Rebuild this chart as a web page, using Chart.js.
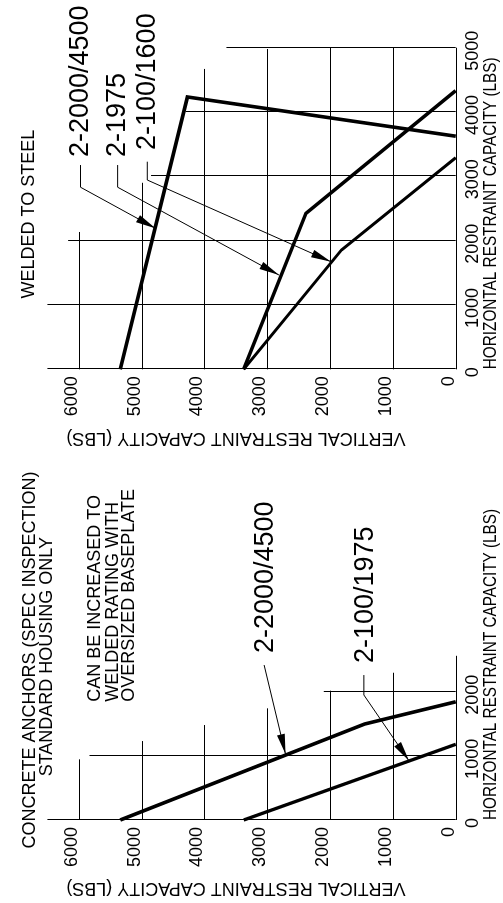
<!DOCTYPE html>
<html>
<head>
<meta charset="utf-8">
<script src="https://cdn.jsdelivr.net/npm/chart.js@4.4.1/dist/chart.umd.min.js"></script>
<style>
  html, body { margin: 0; padding: 0; background: #fff; }
  body { width: 503px; height: 903px; overflow: hidden; position: relative; }
  /* the sheet is drawn upright and then turned a quarter left, like the original drawing */
  #sheet { position: absolute; left: 0; top: 0; width: 903px; height: 503px;
           transform-origin: 0 0; transform: translate(0, 903px) rotate(-90deg); }
  #sheet canvas { position: absolute; top: 0; }
  #concrete { left: 0; }
  #welded { left: 453px; }
</style>
</head>
<body>
<div id="sheet">
  <canvas id="concrete" width="453" height="503"></canvas>
  <canvas id="welded" width="450" height="503"></canvas>
</div>
<script>
// capacities in lbs: x = horizontal restraint, y = vertical restraint
const vTicks = [0, 1000, 2000, 3000, 4000, 5000, 6000];
const concTicksH = [0, 1000, 2000];
const weldTicksH = [0, 1000, 2000, 3000, 4000, 5000];

// concrete anchors (spec inspection)
const concH_2000_4500 = [0, 1496, 1843];
const concV_2000_4500 = [5340, 1452, 0];
const concH_100_1975 = [0, 1180];
const concV_100_1975 = [3375, 0];

// welded to steel
const weldH_2000_4500 = [0, 4234, 3624];
const weldV_2000_4500 = [5340, 4271, 0];
const weldH_1975 = [0, 2424, 4332];
const weldV_1975 = [3375, 2384, 0];
const weldH_100_1600 = [0, 1855, 3290];
const weldV_100_1600 = [3375, 1819, 0];

// grid lines on the drawing stop short, these are their reaches
const concGridH = [0, 1000, 2000];
const concGridHReach = [6500, 5830, 2100];
const concGridVReach = [2560, 2296, 2016, 1741, 1481, 1231, 946];
const weldGridH = [0, 1000, 2000, 3000, 4000, 5000];
const weldGridHReach = [6500, 6500, 6170, 4850, 4300, 3650];
const weldGridVReach = [5000, 5000, 5000, 4980, 4670, 2900, 2135];

Chart.defaults.font.family = '"Liberation Sans", Arial, sans-serif';
Chart.defaults.font.size = 18;
Chart.defaults.color = '#000';

const crisp = p => Math.round(p) + 0.5;

const drawing = {
  id: 'drawing',
  beforeDatasetsDraw(chart, args, opts) {
    const {ctx, scales: {x, y}} = chart;
    ctx.save();
    ctx.strokeStyle = '#000';
    ctx.lineWidth = 1;
    ctx.beginPath();
    opts.gridH.forEach((h, i) => {
      const gx = crisp(x.getPixelForValue(h));
      ctx.moveTo(gx, y.getPixelForValue(0));
      ctx.lineTo(gx, y.getPixelForValue(opts.gridHReach[i]));
    });
    vTicks.forEach((v, i) => {
      const gy = crisp(y.getPixelForValue(v));
      ctx.moveTo(x.getPixelForValue(0), gy);
      ctx.lineTo(x.getPixelForValue(opts.gridVReach[i]), gy);
    });
    ctx.stroke();
    ctx.restore();
  },
  afterDatasetsDraw(chart, args, opts) {
    const {ctx, scales: {x, y}} = chart;
    const P = q => [x.getPixelForValue(q[0]), y.getPixelForValue(q[1])];
    ctx.save();
    ctx.fillStyle = '#000';
    ctx.strokeStyle = '#000';
    opts.leaders.forEach(leader => {
      const p = leader.map(P);
      ctx.lineWidth = 1;
      ctx.beginPath();
      p.forEach((q, i) => i ? ctx.lineTo(q[0], q[1]) : ctx.moveTo(q[0], q[1]));
      ctx.stroke();
      const a = p[p.length - 2], b = p[p.length - 1];
      ctx.save();
      ctx.translate(b[0], b[1]);
      ctx.rotate(Math.atan2(b[1] - a[1], b[0] - a[0]));
      ctx.beginPath();
      ctx.moveTo(0, 0);
      ctx.lineTo(-20, -4);
      ctx.lineTo(-20, 4);
      ctx.closePath();
      ctx.fill();
      ctx.restore();
    });
    opts.notes.forEach(n => {
      const [tx, ty] = P([n.h, n.v]);
      ctx.font = n.size + 'px "Liberation Sans", Arial, sans-serif';
      ctx.textAlign = n.align || 'left';
      ctx.textBaseline = 'middle';
      ctx.fillText(n.text, tx, ty);
    });
    ctx.restore();
  }
};

const line = (label, hs, vs, w) => ({
  label,
  data: hs.map((h, i) => ({x: h, y: vs[i]})),
  showLine: true,
  borderColor: '#000',
  borderWidth: w,
  pointRadius: 0,
  tension: 0,
  clip: false
});

function sketch(id, datasets, hTicks, o) {
  return new Chart(document.getElementById(id), {
    type: 'scatter',
    data: {datasets},
    options: {
      responsive: false,
      animation: false,
      layout: {padding: {left: 0, right: o.right, top: 10.4, bottom: 0}},
      plugins: {
        legend: {display: false},
        tooltip: {enabled: false},
        drawing: o.drawing
      },
      scales: {
        x: {
          type: 'linear', min: 0, max: 4850,
          border: {display: false},
          grid: {display: false, drawTicks: false},
          afterBuildTicks: s => { s.ticks = hTicks.map(value => ({value})); },
          afterFit: s => { s.height = 47.3; },
          ticks: {autoSkip: false, maxRotation: 0, padding: 7, labelOffset: -3, callback: v => String(v)},
          title: {display: true, text: 'HORIZONTAL RESTRAINT CAPACITY (LBS)', font: {size: 18}, padding: {top: 0, bottom: 1}}
        },
        y: {
          type: 'linear', min: 0, max: 7000,
          border: {display: false},
          grid: {display: false, drawTicks: false},
          afterBuildTicks: s => { s.ticks = vTicks.map(value => ({value})); },
          afterFit: s => { s.width = o.left; },
          ticks: {autoSkip: false, padding: 7, labelOffset: -7, font: {lineHeight: 1}, callback: v => String(v)},
          title: {display: true, text: 'VERTICAL RESTRAINT CAPACITY (LBS)', font: {size: 18}, padding: {top: o.yTitlePad, bottom: 0}}
        }
      }
    },
    plugins: [drawing]
  });
}

sketch('concrete', [
  line('2-2000/4500', concH_2000_4500, concV_2000_4500, 3.6),
  line('2-100/1975', concH_100_1975, concV_100_1975, 3.4)
], concTicksH, {
  left: 83, right: 58.9, yTitlePad: 4,
  drawing: {
    gridH: concGridH, gridHReach: concGridHReach, gridVReach: concGridVReach,
    leaders: [
      [[2416, 3050], [1029, 2710]],
      [[2260, 1462], [1949, 1462], [924, 745]]
    ],
    notes: [
      {text: 'CONCRETE ANCHORS (SPEC INSPECTION)', h: 2494, v: 6778, size: 18, align: 'center'},
      {text: 'STANDARD HOUSING ONLY', h: 2546, v: 6507, size: 18, align: 'center'},
      {text: 'CAN BE INCREASED TO', h: 1844, v: 5748, size: 18},
      {text: 'WELDED RATING WITH', h: 1844, v: 5461, size: 18},
      {text: 'OVERSIZED BASEPLATE', h: 1844, v: 5198, size: 18},
      {text: '2-2000/4500', h: 2603, v: 3030, size: 27},
      {text: '2-100/1975', h: 2447, v: 1441, size: 27}
    ]
  }
});

sketch('welded', [
  line('2-2000/4500', weldH_2000_4500, weldV_2000_4500, 3.6),
  line('2-1975', weldH_1975, weldV_1975, 3.6),
  line('2-100/1600', weldH_100_1600, weldV_100_1600, 3.0)
], weldTicksH, {
  left: 80.7, right: 57.35, yTitlePad: 1,
  drawing: {
    gridH: weldGridH, gridHReach: weldGridHReach, gridVReach: weldGridVReach,
    leaders: [
      [[3176, 5973], [2831, 5973], [2192, 4778]],
      [[3176, 5382], [2831, 5382], [1466, 2814]],
      [[3228, 4910], [2943, 4910], [1673, 1987]]
    ],
    notes: [
      {text: 'WELDED TO STEEL', h: 2413, v: 6793, size: 18, align: 'center'},
      {text: '2-2000/4500', h: 3300, v: 5973, size: 27},
      {text: '2-1975', h: 3300, v: 5382, size: 27},
      {text: '2-100/1600', h: 3410, v: 4910, size: 27}
    ]
  }
});
</script>
</body>
</html>
